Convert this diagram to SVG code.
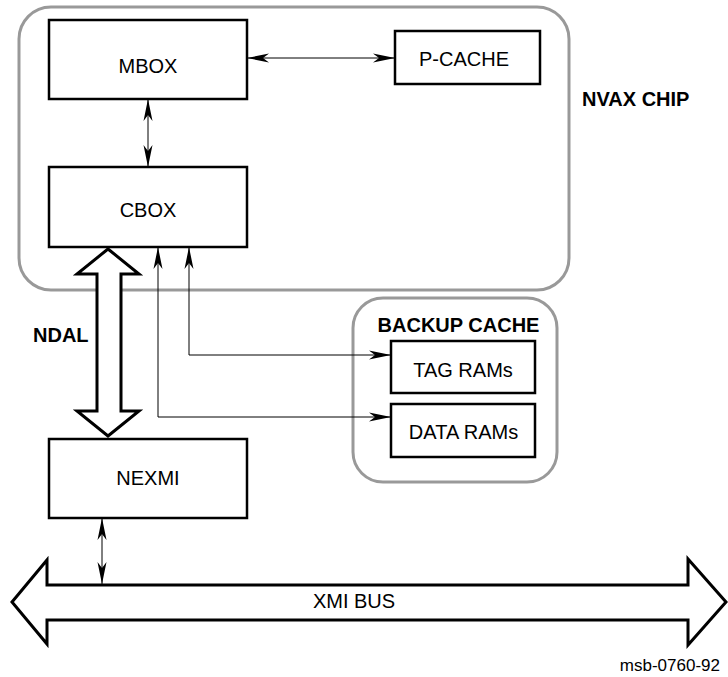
<svg xmlns="http://www.w3.org/2000/svg" width="728" height="677" viewBox="0 0 728 677">
<style>
  .grp{fill:none;stroke:#999;stroke-width:3}
  .box{fill:#fff;stroke:#000;stroke-width:2.5}
  .lbl{font-family:"Liberation Sans",Arial,sans-serif;font-size:20px;fill:#000}
  .c{text-anchor:middle}
  .b{font-weight:bold}
  .wire{fill:none;stroke:#000;stroke-width:1}
  .fat{fill:#fff;stroke:#000;stroke-width:3;stroke-linejoin:miter}
</style>
<defs>
  <marker id="ah" viewBox="-23 -6 24 12" refX="0" refY="0" markerWidth="24" markerHeight="12" markerUnits="userSpaceOnUse" orient="auto-start-reverse">
    <path d="M0,0 L-22,-4.5 L-16,0 L-22,4.5 Z" fill="#000"/>
  </marker>
</defs>
<rect width="728" height="677" fill="#fff"/>

<g id="nvax-chip">
  <rect class="grp" x="19" y="7" width="550" height="283" rx="32"/>
  <text class="lbl b" x="582" y="106">NVAX CHIP</text>
</g>
<g id="backup-cache">
  <rect class="grp" x="353" y="298" width="204" height="184" rx="30"/>
  <text class="lbl b c" x="458.5" y="332">BACKUP CACHE</text>
</g>

<g id="connectors">
  <line class="wire" x1="247" y1="58" x2="395" y2="58" marker-start="url(#ah)" marker-end="url(#ah)"/>
  <line class="wire" x1="148" y1="99" x2="148" y2="167" marker-start="url(#ah)" marker-end="url(#ah)"/>
  <path class="wire" d="M189,247 V355 H391" marker-start="url(#ah)" marker-end="url(#ah)"/>
  <path class="wire" d="M158,247 V417 H391" marker-start="url(#ah)" marker-end="url(#ah)"/>
  <line class="wire" x1="102" y1="518" x2="102" y2="584" marker-start="url(#ah)" marker-end="url(#ah)"/>
  <polygon id="ndal-arrow" class="fat" points="108,249 139,274 121,274 121,411 139,411 108,436 77,411 97,411 97,274 77,274"/>
</g>

<g id="mbox">
  <rect class="box" x="49" y="20" width="198" height="79"/>
  <text class="lbl c" x="148" y="73">MBOX</text>
</g>
<g id="p-cache">
  <rect class="box" x="395" y="31" width="145" height="53"/>
  <text class="lbl c" x="464" y="66">P-CACHE</text>
</g>
<g id="cbox">
  <rect class="box" x="49" y="167" width="198" height="80"/>
  <text class="lbl c" x="148" y="217">CBOX</text>
</g>
<g id="ndal">
  <text class="lbl b" x="33" y="342">NDAL</text>
</g>
<g id="tag-rams">
  <rect class="box" x="391" y="341" width="144" height="52"/>
  <text class="lbl c" x="463" y="377">TAG RAMs</text>
</g>
<g id="data-rams">
  <rect class="box" x="391" y="404" width="144" height="53"/>
  <text class="lbl c" x="463.5" y="439">DATA RAMs</text>
</g>
<g id="nexmi">
  <rect class="box" x="49" y="439" width="198" height="79"/>
  <text class="lbl c" x="148" y="485">NEXMI</text>
</g>
<g id="xmi-bus">
  <polygon class="fat" points="12,602 47,560 47,585 688,585 688,559 726,602 688,645 688,620 47,620 47,644"/>
  <text class="lbl c" x="354" y="608">XMI BUS</text>
</g>
<text class="lbl" style="font-size:17px;text-anchor:end" x="720" y="671">msb-0760-92</text>
</svg>
